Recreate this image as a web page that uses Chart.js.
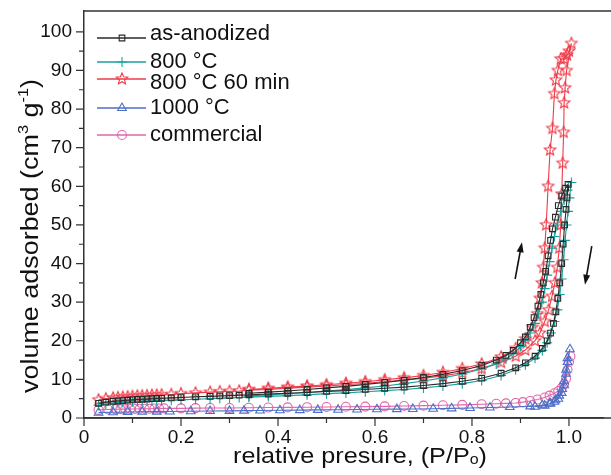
<!DOCTYPE html>
<html>
<head>
<meta charset="utf-8">
<script src="https://cdn.jsdelivr.net/npm/chart.js@4/dist/chart.umd.min.js"></script>
<style>
  body { margin: 0; background: #fff; }
  canvas { display: block; }
</style>
</head>
<body>
<canvas id="iso-chart" width="611" height="475"></canvas>
<script>
// axis ticks
const X_MAJOR = [0, 0.2, 0.4, 0.6, 0.8, 1.0];
const X_MINOR = [0.1, 0.3, 0.5, 0.7, 0.9];
const Y_MAJOR = [0, 10, 20, 30, 40, 50, 60, 70, 80, 90, 100];
const Y_MINOR = [5, 15, 25, 35, 45, 55, 65, 75, 85, 95];

// as-anodized: adsorption then desorption
const ANOD_P = [0.03,0.045,0.06,0.07,0.08,0.09,0.10,0.11,0.12,0.13,0.14,0.15,0.16,0.18,0.20,0.23,0.26,0.28,0.30,0.32,0.34,0.38,0.42,0.46,0.50,0.54,0.58,0.62,0.66,0.70,0.74,0.78,0.82,0.86,0.89,0.91,0.93,0.945,0.955,0.962,0.968,0.973,0.977,0.981,0.985,0.988,0.991,0.994,0.996,0.998,
  0.993,0.985,0.978,0.972,0.966,0.962,0.957,0.952,0.947,0.942,0.936,0.928,0.92,0.91,0.90,0.885,0.87,0.85,0.82,0.78,0.74,0.70,0.66,0.62,0.58,0.54,0.50,0.46,0.42,0.38,0.34];
const ANOD_V = [3.8,4.1,4.3,4.4,4.5,4.6,4.7,4.8,4.85,4.9,5.0,5.05,5.1,5.2,5.3,5.5,5.6,5.7,5.8,5.9,6.0,6.2,6.4,6.6,6.9,7.1,7.4,7.7,8.0,8.4,8.9,9.5,10.3,11.6,13.0,14.3,16.0,18.0,20.0,22.0,24.5,27.5,31,35,40,45,50,54,57,60.5,
  59.5,57.5,55,52,49,46,42,38,35,32,29,26,23.5,21,19.5,17.5,16.2,15,13.6,12.3,11.3,10.5,9.8,9.2,8.7,8.2,7.8,7.4,7.0,6.7,6.4];

// 800 °C
const T800_P = [0.03,0.045,0.06,0.07,0.08,0.09,0.10,0.11,0.12,0.13,0.14,0.15,0.16,0.18,0.20,0.23,0.26,0.28,0.30,0.32,0.34,0.38,0.42,0.46,0.50,0.54,0.58,0.62,0.66,0.70,0.74,0.78,0.82,0.86,0.89,0.91,0.93,0.945,0.955,0.963,0.97,0.976,0.981,0.985,0.989,0.992,0.995,0.998,1.001,1.005,
  0.997,0.99,0.983,0.976,0.97,0.965,0.96,0.955,0.95,0.944,0.937,0.93,0.92,0.91,0.90,0.885,0.87,0.85,0.82,0.78,0.74,0.70,0.66,0.62,0.58,0.54,0.50,0.46,0.42,0.38,0.34];
const T800_V = [3.3,3.6,3.8,3.9,4.0,4.1,4.2,4.25,4.3,4.35,4.4,4.45,4.5,4.6,4.7,4.85,5.0,5.1,5.2,5.3,5.4,5.6,5.8,6.0,6.3,6.5,6.8,7.1,7.4,7.8,8.3,8.9,9.7,11.0,12.5,13.8,15.5,17.5,19.5,22,25,28,32,36,41,46,50,53.5,57,61,
  59,56.5,53.5,50,47,44,40.5,37,33.5,30,27,24.5,22,20,18.5,16.6,15.3,14.0,12.7,11.4,10.4,9.6,8.9,8.3,7.8,7.4,7.0,6.6,6.3,6.0,5.7];

// 800 °C 60 min
const T800L_P = [0.03,0.045,0.06,0.07,0.08,0.09,0.10,0.11,0.12,0.13,0.14,0.15,0.16,0.18,0.20,0.23,0.26,0.28,0.30,0.32,0.34,0.38,0.42,0.46,0.50,0.54,0.58,0.62,0.66,0.70,0.74,0.78,0.82,0.86,0.89,0.91,0.93,0.94,0.95,0.958,0.965,0.971,0.976,0.98,0.983,0.985,0.987,0.989,0.99,0.992,0.995,1.005,
  1.0,0.996,0.99,0.983,0.977,0.973,0.97,0.966,0.961,0.957,0.953,0.95,0.947,0.944,0.94,0.935,0.925,0.91,0.89,0.86,0.82,0.78,0.74,0.70,0.66,0.62,0.58,0.54,0.50,0.46,0.42,0.38,0.34];
const T800L_V = [4.7,5.0,5.2,5.3,5.4,5.5,5.6,5.7,5.75,5.8,5.9,5.95,6.0,6.1,6.3,6.5,6.7,6.8,6.9,7.0,7.2,7.4,7.7,8.0,8.3,8.6,9.0,9.4,9.8,10.3,10.9,11.7,12.8,14.4,16.0,17.6,20,22,25,28,31.5,35,39,44,50,58,66,74,81.6,85.5,90,97,
  95,94,93,93,90,87.5,84,75,69.4,60,50,44,39,35,31,27,23.5,20.5,18,15.8,14,12.8,11.8,11.0,10.4,9.9,9.4,9.0,8.6,8.3,8.0,7.7,7.4];

// 1000 °C
const T1000_P = [0.03,0.06,0.09,0.12,0.15,0.177,0.22,0.26,0.30,0.33,0.363,0.404,0.445,0.482,0.524,0.563,0.604,0.645,0.678,0.72,0.758,0.796,0.837,0.878,0.92,0.945,0.96,0.97,0.978,0.985,0.99,0.994,0.997,1.002,
  0.997,0.994,0.99,0.986,0.98,0.972,0.962,0.95,0.93];
const T1000_V = [1.4,1.5,1.55,1.6,1.65,1.7,1.75,1.8,1.85,1.9,1.95,2.0,2.05,2.1,2.15,2.2,2.25,2.3,2.35,2.4,2.5,2.6,2.7,2.85,3.0,3.3,3.7,4.2,5.0,6.5,8.5,11.5,14.5,17.8,
  15.5,12.5,9.5,7.5,5.8,4.6,3.8,3.2,2.9];

// commercial
const COMM_P = [0.03,0.05,0.065,0.075,0.085,0.095,0.105,0.115,0.125,0.135,0.145,0.155,0.165,0.2,0.23,0.26,0.3,0.34,0.38,0.42,0.46,0.5,0.54,0.58,0.62,0.66,0.7,0.74,0.78,0.82,
  0.85,0.87,0.89,0.905,0.92,0.935,0.95,0.96,0.97,0.978,0.985,0.99,0.994,0.997,1.0,1.003];
const COMM_V = [2.1,2.2,2.25,2.3,2.3,2.35,2.35,2.4,2.4,2.4,2.45,2.45,2.5,2.5,2.55,2.6,2.6,2.65,2.7,2.75,2.8,2.85,2.9,2.95,3.0,3.1,3.2,3.3,3.4,3.55,
  3.7,3.8,3.9,4.1,4.4,4.8,5.3,5.8,6.4,7.0,7.8,8.8,10.2,12.5,14.5,16.0];

// hysteresis arrows [x0, y0, x1, y1] in data units
const ARROWS = [[0.889, 36, 0.903, 45.5], [1.047, 44.5, 1.033, 34.5]];

const FONT = "'Liberation Sans', Arial, sans-serif";

function zip(xs, ys) {
  return xs.map((x, i) => ({ x: x, y: ys[i] }));
}

// open five-point star marker
function starMarker(color, r) {
  const c = document.createElement('canvas');
  const s = Math.ceil(2 * r + 4);
  c.width = s; c.height = s;
  const g = c.getContext('2d');
  g.strokeStyle = color;
  g.lineWidth = 1.1;
  g.beginPath();
  for (let i = 0; i < 10; i++) {
    const rr = i % 2 === 0 ? r : r * 0.45;
    const a = -Math.PI / 2 + i * Math.PI / 5;
    const px = s / 2 + rr * Math.cos(a), py = s / 2 + rr * Math.sin(a);
    if (i === 0) g.moveTo(px, py); else g.lineTo(px, py);
  }
  g.closePath();
  g.stroke();
  return c;
}

const BLACK = '#2a2a2a';
const TEAL = '#1aa09d';
const RED = '#f03a48';
const BLUE = '#4f6fc8';
const PINK = '#e065aa';

function series(label, xs, ys, color, style, radius) {
  return {
    label: label,
    data: zip(xs, ys),
    showLine: true,
    borderColor: color,
    borderWidth: 1.1,
    backgroundColor: 'rgba(0,0,0,0)',
    pointStyle: style,
    pointRadius: radius,
    pointBorderColor: color,
    pointBackgroundColor: 'rgba(0,0,0,0)',
    pointBorderWidth: 1.1,
    tension: 0
  };
}

const datasets = [
  series('as-anodized', ANOD_P, ANOD_V, BLACK, 'rect', 4),
  series('800 °C', T800_P, T800_V, TEAL, 'cross', 5),
  series('800 °C 60 min', T800L_P, T800L_V, RED, starMarker(RED, 6), 6),
  series('1000 °C', T1000_P, T1000_V, BLUE, 'triangle', 5),
  series('commercial', COMM_P, COMM_V, PINK, 'circle', 4.5)
];

const LEGEND_Y = [38, 62, 79, 108, 135];

// draw text stretched horizontally to a target width
function fitText(ctx, parts, cx, cy, target) {
  let total = 0;
  parts.forEach(p => { ctx.font = p[1]; p[3] = ctx.measureText(p[0]).width; total += p[3]; });
  const k = target / total;
  ctx.save();
  ctx.translate(cx, cy);
  ctx.scale(k, 1);
  let tx = -total / 2;
  parts.forEach(p => { ctx.font = p[1]; ctx.fillText(p[0], tx, p[2]); tx += p[3]; });
  ctx.restore();
}

const framePlugin = {
  id: 'frame',
  afterDraw(chart) {
    const ctx = chart.ctx;
    const xs = chart.scales.x, ys = chart.scales.y;
    const area = chart.chartArea;
    ctx.save();
    ctx.strokeStyle = '#333';
    ctx.lineWidth = 1.5;
    // frame lines out to the canvas edge
    ctx.beginPath();
    ctx.moveTo(area.left, area.top);
    ctx.lineTo(chart.width, area.top);
    ctx.moveTo(area.left, area.bottom);
    ctx.lineTo(chart.width, area.bottom);
    ctx.stroke();
    // outward ticks
    ctx.lineWidth = 1.2;
    ctx.beginPath();
    X_MAJOR.forEach(v => { const p = xs.getPixelForValue(v); ctx.moveTo(p, area.bottom); ctx.lineTo(p, area.bottom + 8); });
    X_MINOR.forEach(v => { const p = xs.getPixelForValue(v); ctx.moveTo(p, area.bottom); ctx.lineTo(p, area.bottom + 5); });
    Y_MAJOR.forEach(v => { const p = ys.getPixelForValue(v); ctx.moveTo(area.left, p); ctx.lineTo(area.left - 8, p); });
    Y_MINOR.forEach(v => { const p = ys.getPixelForValue(v); ctx.moveTo(area.left, p); ctx.lineTo(area.left - 5, p); });
    ctx.stroke();

    // arrows
    ctx.strokeStyle = '#111';
    ctx.fillStyle = '#111';
    ctx.lineWidth = 1.6;
    ARROWS.forEach(a => {
      const x0 = xs.getPixelForValue(a[0]), y0 = ys.getPixelForValue(a[1]);
      const x1 = xs.getPixelForValue(a[2]), y1 = ys.getPixelForValue(a[3]);
      const ang = Math.atan2(y1 - y0, x1 - x0);
      ctx.beginPath();
      ctx.moveTo(x0, y0);
      ctx.lineTo(x1 - 5 * Math.cos(ang), y1 - 5 * Math.sin(ang));
      ctx.stroke();
      ctx.beginPath();
      ctx.moveTo(x1, y1);
      ctx.lineTo(x1 - 10 * Math.cos(ang) + 3.5 * Math.sin(ang), y1 - 10 * Math.sin(ang) - 3.5 * Math.cos(ang));
      ctx.lineTo(x1 - 10 * Math.cos(ang) - 3.5 * Math.sin(ang), y1 - 10 * Math.sin(ang) + 3.5 * Math.cos(ang));
      ctx.closePath();
      ctx.fill();
    });

    // legend
    ctx.textBaseline = 'middle';
    chart.data.datasets.forEach((ds, i) => {
      const y = LEGEND_Y[i];
      ctx.strokeStyle = ds.borderColor;
      ctx.fillStyle = 'rgba(0,0,0,0)';
      ctx.lineWidth = 1.3;
      ctx.beginPath();
      ctx.moveTo(97, y);
      ctx.lineTo(146, y);
      ctx.stroke();
      ctx.lineWidth = 1.1;
      Chart.helpers.drawPoint(ctx, {
        pointStyle: ds.pointStyle, radius: ds.pointRadius, rotation: 0, borderWidth: 1.1
      }, 122, y);
      ctx.fillStyle = '#111';
      ctx.font = '22px ' + FONT;
      ctx.fillText(ds.label, 150, i === 0 ? y - 4 : (i === 2 ? y + 4 : y));
    });

    // axis titles
    ctx.fillStyle = '#111';
    ctx.textBaseline = 'alphabetic';
    const big = '22px ' + FONT, small = '14px ' + FONT;
    fitText(ctx, [['relative presure, (P/P', big, 0], ['o', small, 1], [')', big, 0]], 360, 463, 254);

    ctx.save();
    ctx.translate(38, 236);
    ctx.rotate(-Math.PI / 2);
    fitText(ctx, [['volume adsorbed (cm', '23px ' + FONT, 0], ['3', small, -10], [' g', '23px ' + FONT, 0], ['-1', small, -10], [')', '23px ' + FONT, 0]], 0, 0, 314);
    ctx.restore();
    ctx.restore();
  }
};

new Chart(document.getElementById('iso-chart').getContext('2d'), {
  type: 'scatter',
  data: { datasets: datasets },
  options: {
    responsive: false,
    animation: false,
    layout: { padding: { top: 11, right: 0, left: 0, bottom: 0 } },
    plugins: {
      legend: { display: false },
      tooltip: { enabled: false }
    },
    scales: {
      x: {
        type: 'linear',
        min: 0,
        max: 1.072,
        afterFit: s => { s.height = 57; },
        afterBuildTicks: s => { s.ticks = X_MAJOR.map(v => ({ value: v })); },
        grid: { display: false },
        border: { display: true, color: '#333', width: 1.5 },
        ticks: {
          padding: 0,
          color: '#111',
          font: { family: FONT, size: 19 },
          callback: v => (v === 0 ? '0' : v.toFixed(1))
        }
      },
      y: {
        type: 'linear',
        min: 0,
        max: 105.4,
        afterFit: s => { s.width = 84; s.paddingTop = 0; s.paddingBottom = 0; },
        afterBuildTicks: s => { s.ticks = Y_MAJOR.map(v => ({ value: v })); },
        grid: { display: false },
        border: { display: true, color: '#333', width: 1.5 },
        ticks: {
          padding: 4,
          color: '#111',
          font: { family: FONT, size: 19 },
          callback: v => String(v)
        }
      }
    }
  },
  plugins: [framePlugin]
});
</script>
</body>
</html>
